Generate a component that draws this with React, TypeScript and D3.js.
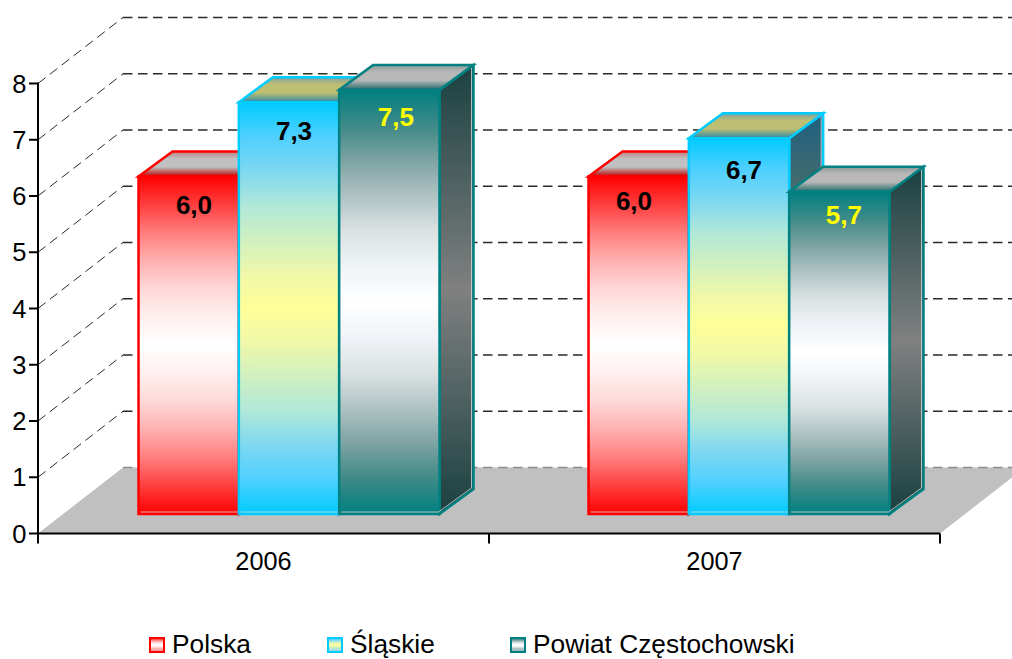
import React from "react";
import * as d3 from "d3";

const years = ["2006", "2007"];
const seriesNames = ["Polska", "Śląskie", "Powiat Częstochowski"];
const polska = [6.0, 6.0];
const slaskie = [7.32, 6.68];
const powiat = [7.54, 5.73];
const labelsPolska = ["6,0", "6,0"];
const labelsSlaskie = ["7,3", "6,7"];
const labelsPowiat = ["7,5", "5,7"];
const yTicks = [0, 1, 2, 3, 4, 5, 6, 7, 8];

// front-face colour ramps, edge → middle of the bar
const rampPos = [0, 0.17, 0.34, 0.5, 0.67, 0.84, 1];
const rampRed = ["#ff0000", "#ff4040", "#ff8080", "#ffb0b0", "#ffd8d8", "#fff0f0", "#ffffff"];
const rampCyan = ["#00ccff", "#50d0ff", "#80d8f0", "#b0e8d8", "#d0f0c0", "#f0f8a8", "#ffff99"];
const rampTeal = ["#008080", "#3f8a88", "#80a4a4", "#afc3c3", "#dce2e4", "#f0f4f8", "#ffffff"];

const W = 1012, H = 659;
const FONT = "'Liberation Sans', Arial, sans-serif";
const y = d3.scaleLinear().domain([0, 8]).range([533.5, 83.5]);
const x0 = d3.scaleBand<string>().domain(years).range([38, 940]);
const xBars = d3.scaleBand<string>().domain(years).range([38, 938]);
const floorDx = 85, floorDy = -66;
const shiftX = 26, shiftY = -19.5;
const barDx = 34, barDy = -25;
const xInner = d3.scaleBand<string>().domain(seriesNames).range([-150.5, 150.5]);

const styles = [
  { id: "a", stroke: "#ff0000", ramp: rampRed, topMid: "#c0c0c0", topLow: "#c00000", topHigh: "#c08080", sideEdge: "#800000", sideMid: "#808080", text: "#000000", values: polska, labels: labelsPolska, dy: [28, 24], dx: [5.3, -4.7] },
  { id: "b", stroke: "#00ccff", ramp: rampCyan, topMid: "#bfbf73", topLow: "#2a88a8", topHigh: "#7ea0a0", sideEdge: "#1f6080", sideMid: "#80804d", text: "#000000", values: slaskie, labels: labelsSlaskie, dy: [29, 32], dx: [5, 5] },
  { id: "c", stroke: "#008080", ramp: rampTeal, topMid: "#b8b8b8", topLow: "#1f6a6a", topHigh: "#8a9a9a", sideEdge: "#1a4040", sideMid: "#808080", text: "#ffff00", values: powiat, labels: labelsPowiat, dy: [27, 23], dx: [6.6, 4.6] },
];

function rampStops(ramp: string[]) {
  const n = ramp.length;
  const half = ramp.map((c, k) => ({ o: rampPos[k] / 2, c }));
  const other = ramp.slice(0, n - 1).map((c, k) => ({ o: 1 - rampPos[k] / 2, c })).reverse();
  return [...half, ...other].map((s) => <stop key={s.o} offset={s.o} stopColor={s.c} />);
}

const pts = (p: number[][]) => p.map((q) => q.join(",")).join(" ");

function Bar({ s, i }: { s: (typeof styles)[number]; i: number }) {
  const name = seriesNames[styles.indexOf(s)];
  const cx = (xBars(years[i]) as number) + xBars.bandwidth() / 2 + shiftX;
  const xl = cx + (xInner(name) as number);
  const xr = xl + xInner.bandwidth();
  const base = y(0) + shiftY;
  const top = y(s.values[i]) + shiftY;
  const front = `M${xl},${top}H${xr}V${base}H${xl}Z`;
  return (
    <g strokeLinejoin="miter">
      <polygon points={pts([[xr, top], [xr + barDx, top + barDy], [xr + barDx, base + barDy], [xr, base]])} fill={`url(#side-${s.id})`} stroke={s.stroke} strokeWidth={2.5} />
      <polygon points={pts([[xl, top], [xl + barDx, top + barDy], [xr + barDx, top + barDy], [xr, top]])} fill={`url(#top-${s.id})`} stroke={s.stroke} strokeWidth={2.5} />
      <path d={front} fill={`url(#front-${s.id})`} stroke={s.stroke} strokeWidth={2.5} />
      <polyline points={pts([[xl + 2, base - 2], [xr - 1, base - 2], [xr + barDx - 2, base + barDy - 1], [xr + barDx - 2, top + barDy + 3]])} fill="none" stroke="#d8d8d8" strokeWidth={1} opacity={0.8} />
    </g>
  );
}

export default function App() {
  const legendX = [149, 327, 510];
  const frontTop = y(8);
  return (
    <svg width={W} height={H} viewBox={`0 0 ${W} ${H}`} style={{ position: "fixed", left: 0, top: 0, background: "#fff" }} fontFamily={FONT}>
      <defs>
        {styles.map((s) => (
          <React.Fragment key={s.id}>
            <linearGradient id={`front-${s.id}`} x1="0" y1="0" x2="0" y2="1">
              {rampStops(s.ramp)}
            </linearGradient>
            <linearGradient id={`top-${s.id}`} x1="0" y1="0" x2="0" y2="1">
              <stop offset="0" stopColor={s.topHigh} />
              <stop offset="0.3" stopColor={s.topMid} />
              <stop offset="0.62" stopColor={s.topMid} />
              <stop offset="1" stopColor={s.topLow} />
            </linearGradient>
            <linearGradient id={`side-${s.id}`} x1="0" y1="0" x2="0" y2="1">
              <stop offset="0" stopColor={s.sideEdge} />
              <stop offset="0.5" stopColor={s.sideMid} />
              <stop offset="1" stopColor={s.sideEdge} />
            </linearGradient>
          </React.Fragment>
        ))}
      </defs>

      {/* floor */}
      <polygon points={pts([[38, y(0)], [38 + floorDx, y(0) + floorDy], [940 + floorDx, y(0) + floorDy], [940, y(0)]])} fill="#c0c0c0" />

      {/* grid */}
      {yTicks.map((t) => (
        <g key={t} fill="none" stroke={t === 0 ? "#8c8c8c" : "#2a2a2a"} strokeWidth={t === 0 ? 1.5 : 1.3} strokeDasharray="9.5 5.5">
          {t > 0 && <line x1={38} y1={y(t)} x2={38 + floorDx} y2={y(t) + floorDy} strokeWidth={1} />}
          <line x1={38 + floorDx} y1={y(t) + floorDy} x2={W + 20} y2={y(t) + floorDy} />
        </g>
      ))}

      {/* bars */}
      {years.map((yr, i) => (
        <g key={yr}>
          {styles.map((s) => <Bar key={s.id} s={s} i={i} />)}
        </g>
      ))}

      {/* value labels */}
      {years.map((yr, i) =>
        styles.map((s) => {
          const name = seriesNames[styles.indexOf(s)];
          const cx = (xBars(yr) as number) + xBars.bandwidth() / 2 + shiftX + (xInner(name) as number) + xInner.bandwidth() / 2 + s.dx[i];
          return (
            <text key={yr + s.id} x={cx} y={y(s.values[i]) + shiftY + s.dy[i] + 9} textAnchor="middle" fontSize={26} fontWeight={700} fill={s.text}>
              {s.labels[i]}
            </text>
          );
        })
      )}

      {/* axes */}
      <g stroke="#000" strokeWidth={2} fill="none">
        <line x1={38} y1={frontTop - 1} x2={38} y2={y(0) + 10} />
        <line x1={38} y1={y(0)} x2={940} y2={y(0)} />
        {yTicks.map((t) => <line key={t} x1={29} y1={y(t)} x2={38} y2={y(t)} />)}
        {[...years.map((yr) => x0(yr) as number), 940].slice(1).map((v) => <line key={v} x1={v} y1={y(0)} x2={v} y2={y(0) + 10} />)}
      </g>
      {yTicks.map((t) => (
        <text key={t} x={26.5} y={y(t) + 9} textAnchor="end" fontSize={25.5} fill="#000">{t}</text>
      ))}
      {years.map((yr) => (
        <text key={yr} x={(x0(yr) as number) + x0.bandwidth() / 2} y={570} textAnchor="middle" fontSize={25.3} fill="#000">{yr}</text>
      ))}

      {/* legend */}
      {seriesNames.map((n, i) => {
        const s = styles[i];
        return (
          <g key={n}>
            <rect x={legendX[i] + 1} y={638} width={14} height={14} fill={`url(#front-${s.id})`} stroke={s.stroke} strokeWidth={2} />
            <line x1={legendX[i] + 2} y1={650} x2={legendX[i] + 14} y2={650} stroke="#e0e0e0" strokeWidth={1} />
            <text x={legendX[i] + 23} y={653} fontSize={26.3} fill="#000">{n}</text>
          </g>
        );
      })}
    </svg>
  );
}
